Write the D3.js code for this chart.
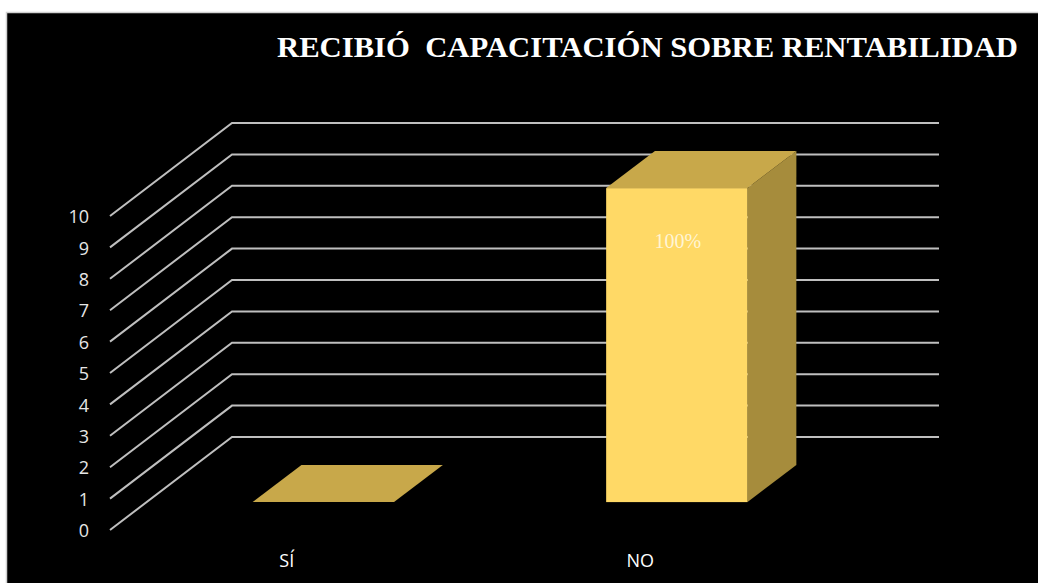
<!DOCTYPE html>
<html>
<head>
<meta charset="utf-8">
<script src="https://cdn.jsdelivr.net/npm/d3@7"></script>
<style>
  html, body { margin: 0; padding: 0; background: #ffffff; }
  svg { display: block; }
</style>
</head>
<body>
<svg id="chart" width="1038" height="583"></svg>
<script>
const categories = ["SÍ", "NO"];
const values = [0, 10];
const valueLabels = ["", "100%"];
const yTicks = [0, 1, 2, 3, 4, 5, 6, 7, 8, 9, 10];
const title = "RECIBIÓ  CAPACITACIÓN SOBRE RENTABILIDAD";

const W = 1038, H = 583;
const svg = d3.select("#chart");

// background panel
svg.append("rect").attr("x", 0).attr("y", 0).attr("width", W).attr("height", H).attr("fill", "#ffffff");
svg.append("rect").attr("x", 6).attr("y", 12).attr("width", W - 6).attr("height", H - 12)
  .attr("fill", "#000000");
svg.append("path").attr("d", `M6.5,${H} V12.5 H${W}`).attr("fill", "none")
  .attr("stroke", "#d0d0d0").attr("stroke-width", 1.5);

// title
svg.append("text")
  .attr("x", 277).attr("y", 57)
  .attr("textLength", 741).attr("lengthAdjust", "spacingAndGlyphs")
  .attr("fill", "#ffffff")
  .style("font-family", "'Liberation Serif', 'DejaVu Serif', serif")
  .style("font-weight", "bold")
  .style("font-size", "29px")
  .style("white-space", "pre")
  .text(title);

// 3D geometry
const frontLeft = 110, frontRight = 817;
const depth = { dx: 122, dy: -93 };
const barDepthStart = 0.3, barDepthEnd = 0.7;

const y = d3.scaleLinear().domain([0, 10]).range([530, 216]);
const x = d3.scaleBand().domain(categories).range([frontLeft, frontRight])
  .paddingInner(0.6).paddingOuter(0.3);

// gridlines (floor-to-back-wall lines)
const grid = svg.append("g");
yTicks.forEach(t => {
  const y0 = y(t);
  grid.append("path")
    .attr("d", `M${frontLeft},${y0} L${frontLeft + depth.dx},${y0 + depth.dy} L${frontRight + depth.dx},${y0 + depth.dy}`)
    .attr("fill", "none")
    .attr("stroke", "#bfbfbf")
    .attr("stroke-width", 2);
});

// y axis labels
const yAxis = d3.axisLeft(y).tickValues(yTicks).tickSize(0).tickPadding(0);
const yg = svg.append("g").attr("transform", `translate(${frontLeft - 21},1)`).call(yAxis);
yg.select(".domain").remove();
yg.selectAll("text")
  .attr("fill", "#e6e6e6")
  .style("font-family", "'Open Sans', sans-serif")
  .style("font-size", "18px");

// x axis labels
const xAxis = d3.axisBottom(x).tickSize(0).tickPadding(0);
const xg = svg.append("g").attr("transform", `translate(0,${y(0) + 24})`).call(xAxis);
xg.select(".domain").remove();
xg.selectAll("text")
  .attr("fill", "#ffffff")
  .style("font-family", "'Open Sans', sans-serif")
  .style("font-size", "18px");

// bars
const bars = svg.append("g");
const bw = x.bandwidth();
const ox = depth.dx * barDepthStart, oy = depth.dy * barDepthStart;
const ddx = depth.dx * (barDepthEnd - barDepthStart), ddy = depth.dy * (barDepthEnd - barDepthStart);

categories.forEach((c, i) => {
  const v = values[i];
  const x0 = x(c) + ox, x1 = x0 + bw;
  const yb = y(0) + oy, yt = y(v) + oy;
  const g = bars.append("g");
  // side face
  if (yb - yt > 0.5) {
    g.append("path")
      .attr("d", `M${x1},${yb} L${x1 + ddx},${yb + ddy} L${x1 + ddx},${yt + ddy} L${x1},${yt} Z`)
      .attr("fill", "#a68c3c");
  }
  // top face
  g.append("path")
    .attr("d", `M${x0},${yt} L${x1},${yt} L${x1 + ddx},${yt + ddy} L${x0 + ddx},${yt + ddy} Z`)
    .attr("fill", "#c8a84a");
  // front face
  if (yb - yt > 0.5) {
    g.append("rect")
      .attr("x", x0).attr("y", yt).attr("width", bw).attr("height", yb - yt)
      .attr("fill", "#ffd966");
  }
  if (valueLabels[i]) {
    g.append("text")
      .attr("x", x0 + bw / 2 + 1).attr("y", yt + 60)
      .attr("text-anchor", "middle")
      .attr("fill", "#fff5d6")
      .style("font-family", "'Liberation Serif', serif")
      .style("font-size", "20px")
      .text(valueLabels[i]);
  }
});
</script>
</body>
</html>
